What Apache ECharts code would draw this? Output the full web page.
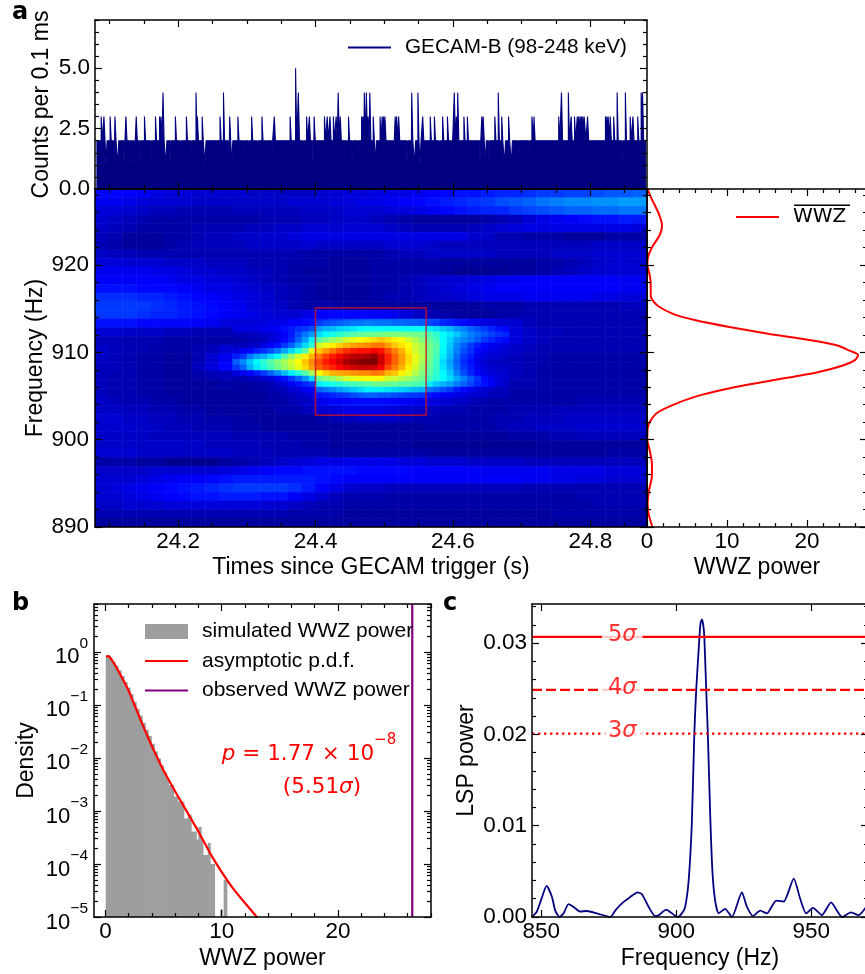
<!DOCTYPE html>
<html><head><meta charset="utf-8">
<style>html,body{margin:0;padding:0;background:#fff}#c{width:865px;height:974px}</style>
<script src="https://cdn.jsdelivr.net/npm/echarts@6/dist/echarts.min.js"></script>
</head><body><div id="c"></div>
<script>
// ---------- Panel a, top: counts per 0.1 ms (level 2 is the visual base, these are the exceptions)
const countRange = [24.081, 24.881];
const binWidth = 0.0016;
const timesLevel1 = [24.095,24.106,24.112,24.121,24.130,24.136,24.144,24.160,24.182,24.188,24.203,24.218,24.239,24.273,24.278,24.295,24.302,24.315,24.327,24.336,24.382,24.396,24.453,24.461,24.487,24.513,24.533,24.538,24.544,24.552,24.580,24.598,24.639,24.647,24.652,24.675,24.685,24.694,24.710,24.846];
const timesLevel3 = [24.088,24.092,24.101,24.108,24.124,24.139,24.151,24.167,24.173,24.175,24.196,24.212,24.228,24.235,24.261,24.275,24.287,24.307,24.322,24.340,24.363,24.387,24.391,24.398,24.413,24.417,24.421,24.426,24.430,24.436,24.448,24.467,24.469,24.4765,24.484,24.494,24.497,24.499,24.501,24.516,24.518,24.521,24.556,24.567,24.573,24.585,24.592,24.605,24.616,24.621,24.642,24.644,24.661,24.671,24.681,24.715,24.716,24.718,24.754,24.772,24.777,24.781,24.783,24.785,24.787,24.789,24.791,24.792,24.796,24.822,24.824,24.826,24.829,24.834,24.858,24.862,24.869];
const timesLevel4 = [24.178,24.226,24.266,24.375,24.433,24.471,24.474,24.479,24.540,24.549,24.602,24.607,24.666,24.758,24.768,24.839,24.851,24.874,24.876];
const timesLevel5 = [24.371];

// ---------- Panel a, centre: WWZ power map, 0-100 on the colour scale, rows top (929 Hz) to bottom (890 Hz)
const wwzGrid = [
[13,13,12,11,10,9,9,8,8,8,8,7,7,7,7,7,8,8,9,9,10,10,10,11,12,13,14,14,15,16,16,17,18,18,19,19,20,21,21,22],
[11,11,10,9,8,8,8,7,7,7,7,7,7,7,8,8,8,9,9,10,10,11,12,13,14,15,16,17,18,20,21,22,24,25,26,26,27,27,28,28],
[9,9,8,7,6,6,5,5,5,5,6,6,6,6,6,7,7,7,8,8,8,9,9,10,11,13,14,15,16,16,18,19,20,21,22,22,23,23,24,24],
[8,7,6,5,4,4,4,4,4,4,4,4,5,5,5,6,6,7,7,7,6,5,4,3,3,3,3,3,4,5,6,8,10,11,12,13,14,14,15,15],
[7,6,5,4,4,4,4,5,5,5,5,6,6,7,7,8,8,8,8,8,8,7,6,5,5,5,5,6,7,8,9,10,10,10,10,10,10,10,10,9],
[6,5,3,3,3,4,4,5,6,6,7,7,8,8,9,10,10,10,10,10,10,10,10,10,10,10,10,8,7,5,5,4,4,4,3,3,3,4,4,4],
[5,4,3,3,3,4,5,6,6,6,6,7,7,7,7,8,7,7,7,7,7,8,8,8,7,6,6,6,6,6,6,6,6,6,6,6,7,7,7,7],
[7,6,6,5,5,5,5,5,5,5,5,5,5,5,5,4,4,4,4,4,4,5,6,6,7,7,7,7,7,6,6,6,6,7,7,7,8,8,8,8],
[9,9,8,8,8,7,7,7,6,6,6,5,5,5,4,4,4,3,3,3,4,4,4,4,4,3,3,3,3,3,3,3,4,4,5,6,7,8,8,8],
[11,11,11,11,10,10,9,8,8,7,7,6,6,5,4,3,3,3,3,3,4,4,4,4,4,3,2,2,2,2,3,3,4,5,6,7,8,8,8,8],
[12,12,12,12,12,11,10,10,9,9,8,7,6,5,4,4,3,3,3,3,4,4,5,6,7,8,8,9,10,11,11,12,12,12,12,12,12,12,11,11],
[14,14,14,13,13,13,12,11,10,10,9,8,7,6,5,4,3,3,3,3,4,4,5,6,7,8,9,10,11,12,12,12,12,12,12,12,12,12,11,11],
[17,17,17,16,16,15,14,13,12,11,10,9,8,6,5,4,3,3,3,3,4,5,5,6,7,7,8,9,10,10,10,11,11,11,11,11,10,10,9,9],
[18,18,18,18,17,16,15,14,13,12,11,9,8,7,5,4,4,4,3,3,3,3,3,3,3,3,3,3,4,4,4,5,5,5,5,5,5,5,6,6],
[18,18,18,17,16,16,15,14,13,12,11,10,9,8,8,10,12,13,13,13,12,11,9,7,5,4,3,3,3,4,4,5,5,5,5,5,5,5,5,5],
[14,14,14,13,13,13,13,12,11,9,8,8,9,10,12,14,16,18,20,21,22,22,22,22,20,17,15,13,12,10,8,6,5,5,5,5,5,5,5,5],
[8,8,7,7,7,6,6,5,5,5,5,6,8,10,13,20,28,32,36,38,40,42,42,42,38,34,28,22,16,12,9,7,6,6,5,5,5,5,5,5],
[6,6,5,5,5,4,4,4,4,4,6,8,10,13,24,34,46,54,58,60,63,64,62,58,50,40,30,24,16,12,9,7,6,5,5,5,5,5,5,5],
[7,6,5,5,4,4,4,5,6,8,16,22,28,36,48,62,72,80,84,86,84,78,68,58,46,34,25,18,12,9,7,6,5,5,5,5,5,5,5,5],
[7,6,5,4,4,3,3,5,8,11,28,38,46,56,66,74,86,96,99,99,96,86,74,60,46,32,20,13,10,8,6,5,5,4,4,4,4,4,4,4],
[6,6,5,4,4,3,3,6,9,13,30,38,46,54,64,75,85,90,92,92,90,84,72,60,47,34,22,15,11,8,6,5,4,4,4,4,4,4,4,4],
[6,5,5,4,4,3,3,4,5,6,12,18,28,36,50,62,70,72,73,73,72,70,65,57,45,38,28,16,10,8,6,5,4,4,4,4,4,4,4,4],
[6,5,5,4,4,3,3,3,3,4,5,6,8,10,14,30,44,48,50,50,50,50,50,46,33,26,20,14,10,7,5,5,4,4,4,4,4,4,4,4],
[6,5,5,4,4,3,3,3,3,3,3,4,4,5,10,16,26,32,34,36,36,34,30,23,15,11,9,8,7,5,4,4,4,4,4,4,4,4,4,4],
[7,6,5,5,4,4,3,3,3,3,3,3,4,4,6,9,12,15,16,16,16,15,14,13,12,9,7,6,5,5,4,4,4,4,4,5,5,5,5,5],
[7,7,6,6,5,5,4,4,3,3,3,3,3,4,4,6,8,9,10,10,10,9,8,7,6,5,5,4,4,4,5,5,5,6,6,6,6,6,6,6],
[8,8,7,7,6,6,5,5,4,4,4,3,3,3,3,3,4,5,6,7,7,7,6,5,5,4,4,4,4,5,5,6,6,6,7,7,7,7,7,7],
[8,8,8,7,7,6,6,5,5,5,4,4,3,3,3,3,3,3,3,3,3,3,3,3,4,4,4,4,4,5,6,6,7,7,7,8,8,8,8,8],
[7,7,7,7,6,6,6,6,6,6,5,5,5,5,4,4,4,3,3,3,3,3,3,3,3,3,3,3,3,3,4,4,4,5,5,6,6,6,6,6],
[7,7,7,7,7,7,7,7,6,6,6,6,5,5,5,4,4,3,3,3,3,3,3,2,2,2,2,2,2,2,2,2,3,3,3,3,3,3,3,3],
[8,8,8,7,7,7,7,7,7,7,6,6,6,5,5,5,5,4,4,4,4,4,4,4,3,3,3,3,3,3,3,3,3,3,3,3,3,4,4,4],
[4,4,4,3,3,2,2,2,2,3,4,5,6,7,8,9,10,10,10,10,10,10,9,9,8,8,8,7,7,7,7,6,6,6,6,6,6,6,6,6],
[7,7,7,7,8,8,8,8,8,9,10,11,12,13,13,14,14,14,14,13,13,13,13,12,12,12,12,12,11,11,11,11,11,10,10,10,10,9,9,9],
[8,8,8,9,10,11,12,12,13,14,15,15,15,15,15,15,14,13,12,12,12,12,12,12,12,12,12,12,12,12,12,11,11,10,10,9,9,8,8,8],
[8,9,10,11,12,13,14,15,16,17,18,18,18,18,17,15,12,10,8,7,7,6,6,6,6,6,6,6,6,6,6,5,5,5,5,5,5,5,5,5],
[8,8,9,10,11,12,13,14,14,15,15,15,14,14,12,10,8,6,5,5,5,4,4,4,4,4,4,4,4,4,4,4,4,4,4,5,5,5,5,5],
[7,7,8,8,8,9,9,9,9,9,9,9,8,8,7,6,5,5,4,4,4,4,4,4,4,4,4,4,4,4,4,4,4,4,4,4,5,5,5,5],
[5,5,5,5,5,5,5,5,5,5,5,5,5,5,4,4,4,4,3,3,3,3,3,3,3,3,3,3,3,3,3,3,3,4,4,4,4,4,4,4],
[3,3,3,3,3,3,3,3,3,3,3,3,3,3,3,3,3,3,3,3,3,3,3,3,3,3,3,3,3,3,3,3,3,3,3,3,3,3,3,3]
];
// finer reading of the bright core of the map (about 24.29-24.69 s, 903-913 Hz), same colour scale
const wwzCore = [
[9,9,9,9,9,10,10,11,12,12,13,14,18,20,21,22,23,24,24,25,24,24,24,23,23,22,22,21,19,18,16,15,14,13,11,10,9,9,8,8],
[10,10,10,10,11,11,12,14,15,17,18,20,28,30,31,33,34,35,37,38,38,38,38,38,38,38,38,38,36,34,32,30,27,25,22,20,18,16,14,13],
[6,6,6,7,8,8,10,12,15,20,24,28,34,38,40,42,44,46,47,48,48,49,50,50,50,49,49,48,45,42,38,35,32,28,25,23,21,19,17,16],
[4,4,5,5,6,8,10,13,16,22,28,36,46,49,52,54,58,60,62,64,66,68,66,64,62,58,54,50,47,44,38,33,28,26,24,21,18,16,14,13],
[6,6,7,7,10,12,14,18,22,28,34,42,58,61,64,67,70,72,73,74,76,76,72,68,65,62,57,54,49,46,38,32,26,22,18,15,13,11,10,9],
[9,11,13,15,17,20,24,29,34,40,46,60,68,72,76,80,83,85,86,86,88,86,80,75,70,64,58,54,49,45,37,31,25,20,17,13,11,10,9,8],
[15,18,24,28,30,34,38,46,52,58,64,70,76,81,85,89,92,94,95,96,98,92,84,78,72,66,60,55,49,44,36,30,23,18,15,11,9,8,8,7],
[22,26,32,37,42,46,50,54,58,62,68,74,80,85,88,92,96,98,99,100,100,92,84,78,72,66,60,54,48,43,34,28,22,17,14,10,8,7,6,6],
[18,22,30,35,40,44,48,52,56,60,66,72,78,81,84,87,90,92,93,93,92,88,80,75,70,64,58,52,47,43,35,29,23,18,15,11,9,8,7,7],
[9,11,13,15,18,22,26,31,36,41,46,54,62,67,70,71,72,73,74,74,76,75,70,68,64,60,55,50,46,42,37,32,25,20,16,12,10,9,8,8],
[5,5,6,6,8,9,11,14,18,22,27,34,48,50,52,55,58,60,61,62,62,62,58,57,55,53,50,48,44,41,37,34,29,25,21,17,13,11,9,8],
[3,3,3,4,4,5,7,9,11,14,16,18,36,38,40,41,43,44,45,46,48,48,48,47,46,46,45,44,36,32,30,28,25,22,19,16,14,12,9,7],
[3,3,3,3,4,5,5,6,8,9,11,12,22,24,26,28,30,32,34,36,36,36,35,34,33,32,31,30,24,22,20,18,15,13,11,9,8,7,6,6],
[3,3,3,3,3,4,4,5,6,7,8,9,14,15,16,17,18,20,21,22,22,21,21,20,19,18,18,17,14,13,12,11,10,9,8,8,7,6,6,6],
[3,3,3,3,3,4,4,4,5,6,6,7,10,11,12,12,12,13,13,13,13,13,13,12,12,11,11,10,9,9,8,8,7,7,6,5,5,4,4,4]
];
const jetColors = ['#00007f','#0000ff','#007fff','#00ffff','#7fff7f','#ffff00','#ff7f00','#ff0000','#7f0000'];
const boxTimes = [24.4,24.561,24.561,24.4,24.4];
const boxFreqs = [915.1,915.1,902.8,902.8,915.1];

// ---------- Panel a, right: mean WWZ power against frequency
const meanFreq = [928.6,927.4,925.9,924.5,923.4,922.1,920.9,920,919,917.9,916.5,916,915.3,914.4,913.7,912.9,912.1,911.4,910.8,910.2,909.7,909.1,908.5,907.7,906.8,905.8,904.9,903.9,903,902,901.3,900,898.8,897.2,895.9,894.2,892.7,891.5,890];
const meanPower = [0.1,0.67,1.46,1.88,1.58,0.67,0.12,0.04,0.3,0.46,0.46,0.67,1.37,3.25,5.96,10.3,15.3,20.3,23.7,25.3,26.4,26,24.5,21.2,15.75,9.9,5.96,3.04,1.17,0.33,0.08,0.04,0.33,0.62,0.62,0.25,0.08,0.2,0.67];

// ---------- Panel b
const histEdges = [0.03,0.29,0.55,0.81,1.07,1.33,1.59,1.85,2.11,2.37,2.63,2.89,3.15,3.41,3.67,3.93,4.19,4.45,4.71,4.97,5.23,5.4,5.85,6.2,6.73,7.08,7.36,7.8,8.0,8.22,8.37,8.8,9.0,9.37,9.89,10.03,10.17,10.43];
const histDensity = [0.81,0.76,0.66,0.55,0.45,0.35,0.27,0.21,0.16,0.115,0.085,0.063,0.046,0.034,0.026,0.0185,0.0132,0.0098,0.0072,0.0054,0.0039,0.0031,0.00186,0.0015,0.00072,0.00085,0.00041,0.00029,0.0005,0.00029,0.000148,0.00025,0.0001,0.00001,0.000014,0.00001,0.00005];
const pdfPower = [0.05,0.2,0.37,0.8,1.23,1.95,2.95,3.81,4.96,6.1,7.82,9.25,10.97,12.98,13.2];
const pdfDensity = [0.82,0.83,0.8,0.577,0.39,0.195,0.0569,0.0206,0.00603,0.00214,0.00048,0.000129,0.0000347,0.0000102,0.0000085];
const observedPower = 26.39;

// ---------- Panel c
const lspFreq = [846.6,848.4,850,852,854,855.2,856.8,858.3,860.1,862,864.4,866.9,870.6,875.6,877.4,879.9,883,885.7,887.3,889.8,892.2,893.5,896.3,898.4,900.5,902.1,903.3,904.6,905.8,906.7,907.4,908.6,909,909.5,910,910.4,911.1,911.7,912.6,913.4,914.4,915.7,918.1,920.6,924.3,926.2,928.4,931.1,933.6,937,939.8,943.5,945.9,948.1,950.6,953.9,957.3,961.4,964.7,967.5,971];
const lspPower = [0,0.0006,0.0019,0.0034,0.0022,0.0007,0,0.0004,0.0014,0.0011,0.0006,0.00066,0.0004,0,0.0007,0.0015,0.0022,0.0027,0.0025,0.0011,0.0001,0.0002,0.0008,0.0004,0,0.0004,0.0011,0.004,0.0105,0.0201,0.0249,0.0307,0.0322,0.0326,0.032,0.0307,0.0249,0.0201,0.011,0.005,0.0018,0.0004,0.0009,0,0.0027,0.0011,0.0001,0.0007,0.0004,0.0018,0.0017,0.0042,0.002,0.0004,0.001,0.0002,0.0016,0,0.0005,0.0002,0.0014];
const sigmaLevels = [0.0307,0.0249,0.0201];
const sigmaNames = ['5','4','3'];
const sigmaLabelFreq = 880;

// ---------- Ticks
const range = (a,b,s)=>{const r=[];for(let v=a;v<=b+s/1000;v+=s)r.push(+v.toFixed(6));return r;};
const timeMajor=[24.2,24.4,24.6,24.8], timeMinor=range(24.1,24.85,0.05).filter(v=>!timeMajor.includes(v));
const countMajor=[0,2.5,5], countMinor=range(0,7,0.5).filter(v=>!countMajor.includes(v));
const freqMajor=[890,900,910,920], freqMinor=range(890,928,2).filter(v=>v%10!==0);
const powerMajor=[0,10,20], powerMinor=range(0,26,2).filter(v=>v%10!==0);
const bPowerMinor=range(0,28,2).filter(v=>v%10!==0);
const densityMajor=[1e-5,1e-4,1e-3,1e-2,1e-1,1];
const densityMinor=[];densityMajor.forEach(d=>[2,3,4,5,6,7,8,9].forEach(k=>{if(k*d<=8)densityMinor.push(k*d);}));
const lspFreqMajor=[850,900,950];
const lspMajor=[0,0.01,0.02,0.03], lspMinor=range(0,0.034,0.002).filter(v=>Math.round(v*1000)%10!==0);

const FONT='Liberation Sans', MATH='DejaVu Sans';
const TICK=22.5, NAME=23;
const xAxes=[], yAxes=[];
function axisSet(list,grid,a,p1,p2){
  const first=list.length;
  const add=(pos,ticks,len,primary,label)=>{
    const o={gridIndex:grid,type:a.type||'value',min:a.min,max:a.max,position:pos,z:6,silent:true,
      splitLine:{show:false},
      axisLine:{show:primary,onZero:false,lineStyle:{color:'#000',width:1.5}},
      axisTick:{show:true,inside:true,length:len,customValues:ticks,lineStyle:{color:'#000',width:1.2}},
      axisLabel:{show:false}};
    if(label&&a.fmt){
      o.axisLabel=Object.assign({show:true,customValues:ticks,color:'#000',fontFamily:FONT,fontSize:TICK,margin:a.margin||5,formatter:a.fmt},a.labelExtra||{});
    }
    if(label&&a.name){
      o.name=a.name;o.nameLocation='middle';o.nameGap=a.nameGap;o.nameMoveOverlap=false;
      o.nameTextStyle={color:'#000',fontFamily:FONT,fontSize:NAME};
    }
    list.push(o);
  };
  add(p1,a.major,7,true,true);
  if(a.minor)add(p1,a.minor,4,false,false);
  add(p2,a.major,7,true,false);
  if(a.minor)add(p2,a.minor,4,false,false);
  return first;
}
function frame(grid,xa,ya){
  return {x:axisSet(xAxes,grid,xa,'bottom','top'),y:axisSet(yAxes,grid,ya,'left','right')};
}
const fmt1=v=>(+v).toFixed(1), fmt0=v=>String(Math.round(v)), fmt2=v=>(+v).toFixed(2);
const tMin=24.079,tMax=24.8825;

const grids=[
 {left:95,top:20,width:552,height:169,outerBoundsMode:'none'},
 {left:95,top:189,width:552,height:338,outerBoundsMode:'none'},
 {left:647,top:189,width:220,height:338,outerBoundsMode:'none'},
 {left:94,top:604,width:337,height:313,outerBoundsMode:'none'},
 {left:532,top:604,width:336,height:313,outerBoundsMode:'none'},
 {left:233,top:320.7,width:276,height:83,outerBoundsMode:'none'}
];
const fCount=frame(0,{min:tMin,max:tMax,major:timeMajor,minor:timeMinor},
  {min:0,max:7,major:countMajor,minor:countMinor,fmt:fmt1,name:'Counts per 0.1 ms',nameGap:42});
const fHeat=frame(1,{min:tMin,max:tMax,major:timeMajor,minor:timeMinor,fmt:fmt1,margin:3,name:'Times since GECAM trigger (s)',nameGap:29.5},
  {min:890,max:928.7,major:freqMajor,minor:freqMinor,fmt:fmt0,margin:6,name:'Frequency (Hz)',nameGap:48});
const fMean=frame(2,{min:0,max:27.5,major:powerMajor,minor:powerMinor,fmt:fmt0,margin:3,name:'WWZ power',nameGap:29.5},
  {min:890,max:928.7,major:freqMajor,minor:freqMinor});
const fDens=frame(3,{min:-0.98,max:28,major:powerMajor,minor:bPowerMinor,fmt:fmt0,margin:3,name:'WWZ power',nameGap:30},
  {type:'log',min:1e-5,max:8,major:densityMajor,minor:densityMinor,margin:6,
   fmt:v=>{const e=Math.round(Math.log10(v));return '{b|10}{s|'+(e<0?'\u2212'+(-e):e)+'}';},
   labelExtra:{rich:{b:{fontFamily:FONT,fontSize:22,color:'#000',lineHeight:23,verticalAlign:'bottom'},s:{fontFamily:FONT,fontSize:15.5,color:'#000',lineHeight:33,verticalAlign:'top'}}},
   name:'Density',nameGap:56});
const fLsp=frame(4,{min:846.6,max:971,major:lspFreqMajor,fmt:fmt0,margin:3,name:'Frequency (Hz)',nameGap:30},
  {min:0,max:0.0343,major:lspMajor,minor:lspMinor,fmt:fmt2,name:'LSP power',nameGap:54});

// hidden band axes for the heatmap cells
const heatX=xAxes.length; xAxes.push({gridIndex:1,type:'category',show:false,data:wwzGrid[0].map((_,i)=>i)});
const heatY=yAxes.length; yAxes.push({gridIndex:1,type:'category',show:false,inverse:true,data:wwzGrid.map((_,i)=>i)});
const coreX=xAxes.length; xAxes.push({gridIndex:5,type:'category',show:false,data:wwzCore[0].map((_,i)=>i)});
const coreY=yAxes.length; yAxes.push({gridIndex:5,type:'category',show:false,inverse:true,data:wwzCore.map((_,i)=>i)});
const cells=g=>{const out=[];g.forEach((row,r)=>row.forEach((v,c)=>out.push([c,r,v])));return out;};

const events=[...timesLevel1.map(t=>[t,1]),...timesLevel3.map(t=>[t,3]),...timesLevel4.map(t=>[t,4]),...timesLevel5.map(t=>[t,5])].sort((a,b)=>a[0]-b[0]);
const countSteps=[[countRange[0],2]];
events.forEach((e,i)=>{countSteps.push(e);const n=events[i+1];if(!n||n[0]>e[0]+binWidth)countSteps.push([e[0]+binWidth,2]);});
countSteps.push([countRange[1],2]);

const NAVY='#000080',RED='#ff0000',PURPLE='#800080',GREY='#9e9e9e';
const histData=histDensity.map((d,i)=>[histEdges[i],histEdges[i+1],d]);
const sigmaRich={n:{fontFamily:MATH,fontSize:22.5,color:RED},i:{fontFamily:MATH,fontSize:22.5,color:RED,fontStyle:'italic'}};
const sigmaSeries=sigmaLevels.map((lv,i)=>({type:'line',name:'sigma'+i,xAxisIndex:fLsp.x,yAxisIndex:fLsp.y,symbol:'none',z:3,
  lineStyle:{color:RED,width:2.2,type:i===0?'solid':(i===1?[10,4]:[2.4,3.6])},data:[[846.6,lv],[971,lv]]}));
const series=[
 {type:'line',name:'GECAM-B (98-248 keV)',xAxisIndex:fCount.x,yAxisIndex:fCount.y,step:'end',symbol:'none',
  lineStyle:{color:NAVY,width:1.1},itemStyle:{color:NAVY},areaStyle:{color:NAVY,opacity:1},data:countSteps},
 {type:'heatmap',xAxisIndex:heatX,yAxisIndex:heatY,data:cells(wwzGrid),progressive:0},
 {type:'heatmap',xAxisIndex:coreX,yAxisIndex:coreY,data:cells(wwzCore),progressive:0,z:3},
 {type:'line',name:'box',xAxisIndex:fHeat.x,yAxisIndex:fHeat.y,symbol:'none',z:4,lineStyle:{color:'rgba(205,16,40,0.8)',width:1.6},data:boxTimes.map((t,i)=>[t,boxFreqs[i]])},
 {type:'line',name:'WWZ',xAxisIndex:fMean.x,yAxisIndex:fMean.y,symbol:'none',smooth:0.25,lineStyle:{color:RED,width:2},itemStyle:{color:RED},data:meanPower.map((p,i)=>[p,meanFreq[i]])},
 {type:'custom',name:'simulated WWZ power',xAxisIndex:fDens.x,yAxisIndex:fDens.y,itemStyle:{color:GREY},encode:{x:[0,1],y:2},
  renderItem:(params,api)=>{const a=api.coord([api.value(0),api.value(2)]),b=api.coord([api.value(1),1e-5]);
    return {type:'rect',shape:{x:a[0],y:a[1],width:b[0]-a[0]+0.7,height:b[1]-a[1]},style:{fill:GREY}};},
  data:histData},
 {type:'line',name:'asymptotic p.d.f.',xAxisIndex:fDens.x,yAxisIndex:fDens.y,symbol:'none',smooth:0.2,z:3,lineStyle:{color:RED,width:2.2},itemStyle:{color:RED},data:pdfPower.map((p,i)=>[p,pdfDensity[i]])},
 {type:'line',name:'observed WWZ power',xAxisIndex:fDens.x,yAxisIndex:fDens.y,symbol:'none',z:3,lineStyle:{color:PURPLE,width:2.2},itemStyle:{color:PURPLE},data:[[observedPower,1e-5],[observedPower,8]]},
 {type:'line',name:'LSP',xAxisIndex:fLsp.x,yAxisIndex:fLsp.y,symbol:'none',smooth:0.2,lineStyle:{color:NAVY,width:1.8},data:lspFreq.map((f,i)=>[f,lspPower[i]])},
 ...sigmaSeries,
 {type:'scatter',name:'sigma labels',xAxisIndex:fLsp.x,yAxisIndex:fLsp.y,symbolSize:1,itemStyle:{color:'rgba(0,0,0,0)'},z:5,
  label:{show:true,position:'inside',offset:[0,-2],backgroundColor:'#fff',padding:[0,6,0,6],
    formatter:p=>'{n|'+sigmaNames[p.dataIndex]+'}{i|\u03c3}',rich:sigmaRich},
  data:sigmaLevels.map(lv=>[sigmaLabelFreq,lv])}
];
const legendBase={selectedMode:false,orient:'vertical',itemWidth:43,itemHeight:15,padding:0,itemStyle:{opacity:0},
  textStyle:{fontFamily:FONT,fontSize:20.7,color:'#000',padding:[0,0,0,9]}};
const letter=(t,x,y)=>({type:'text',x:x,y:y,style:{text:t,fontFamily:MATH,fontWeight:'bold',fontSize:24,fill:'#000',verticalAlign:'bottom'}});
const chart=echarts.init(document.getElementById('c'),null,{renderer:'canvas'});
chart.setOption({
 animation:false,backgroundColor:'#fff',textStyle:{fontFamily:FONT},
 grid:grids,xAxis:xAxes,yAxis:yAxes,
 visualMap:{show:false,type:'continuous',min:0,max:100,dimension:2,seriesIndex:[1,2],inRange:{color:jetColors}},
 legend:[
  Object.assign({},legendBase,{data:['GECAM-B (98-248 keV)'],left:347,top:37}),
  Object.assign({},legendBase,{data:['WWZ'],left:735,top:207,textStyle:{fontFamily:MATH,fontSize:20,color:'#000',padding:[0,0,0,9]}}),
  Object.assign({},legendBase,{data:[{name:'simulated WWZ power',icon:'rect',itemStyle:{color:GREY,opacity:1}},'asymptotic p.d.f.','observed WWZ power'],left:144,top:621,itemGap:8.5,textStyle:{fontFamily:FONT,fontSize:21,color:'#000',padding:[0,0,0,9]}})
 ],
 series:series,
 graphic:[
  letter('a',12,25),letter('b',12,616),letter('c',443,616),
  {type:'rect',shape:{x:794,y:204.5,width:56,height:1.4},style:{fill:'#000'},z:20},
  {type:'text',x:309,y:749,style:{text:'{i|p}{n| = 1.77 \u00d7 10}{s|\u22128}',align:'center',verticalAlign:'middle',
    rich:{i:{fontFamily:MATH,fontStyle:'italic',fontSize:21.5,fill:RED,lineHeight:24,verticalAlign:'bottom'},n:{fontFamily:MATH,fontSize:21.5,fill:RED,lineHeight:24,verticalAlign:'bottom'},s:{fontFamily:MATH,fontSize:15,fill:RED,lineHeight:32,verticalAlign:'top'}}},z:20},
  {type:'text',x:322,y:787,style:{text:'{n|(5.51}{i|\u03c3}{n|)}',align:'center',verticalAlign:'middle',
    rich:{i:{fontFamily:MATH,fontStyle:'italic',fontSize:21.5,fill:RED},n:{fontFamily:MATH,fontSize:21.5,fill:RED}}},z:20}
 ]
});
</script></body></html>
